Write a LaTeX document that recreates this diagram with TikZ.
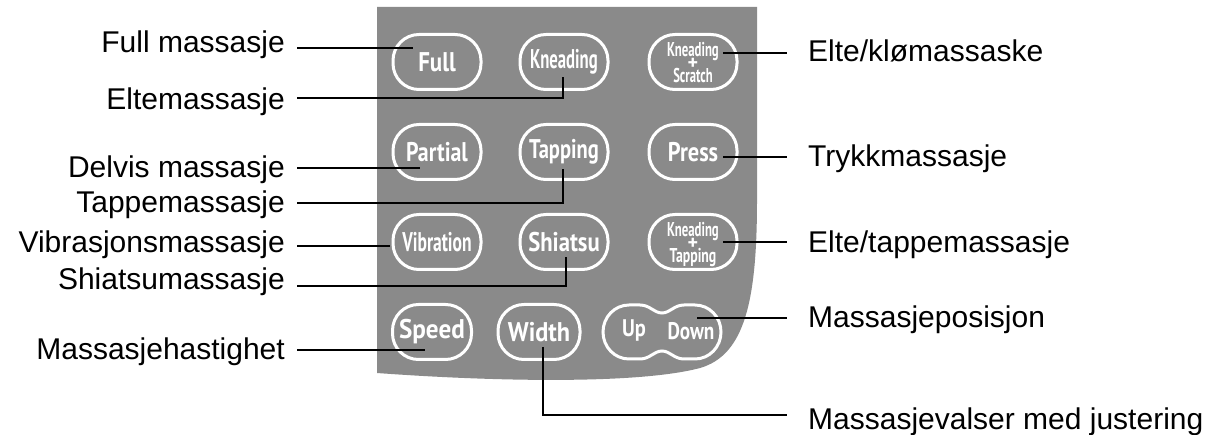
\documentclass[tikz,border=0pt]{standalone}
\usepackage{fontspec}
\usepackage{graphicx}
\newfontfamily\lblfont{Liberation Sans}
\newfontfamily\btnfont{PT Sans Bold}
\definecolor{panelgray}{HTML}{8A8A8A}
\newcommand{\bt}[2][1]{\scalebox{#1}[1]{#2}}

\begin{document}
\begin{tikzpicture}[x=1pt,y=-1pt,
        btn/.style={draw=white,line width=3,rounded corners=26,minimum width=88,minimum height=55,inner sep=0,text=white,font=\btnfont\fontsize{27}{31}\selectfont},
        twoline/.style={btn,align=center,text depth=0pt,font=\btnfont\fontsize{20}{24}\selectfont},
        lbl/.style={font=\lblfont\fontsize{30}{36}\selectfont,inner sep=0,inner xsep=12,anchor=base east},
        rlbl/.style={font=\lblfont\fontsize{30}{36}\selectfont,inner sep=0,inner xsep=21,anchor=base west},
        conn/.style={draw=black,line width=1.3}]
                \useasboundingbox (0,0) rectangle (1227,435);
                \fill[panelgray] (377,7) -- (757,7) -- (757,200) .. controls (757,300) and (745,355) .. (700,368) .. controls (640,384) and (500,382) .. (377,373) -- cycle;

                \node (full) at (437,62) [btn] {\bt[0.85]{Full}};
                \node (knead) at (564,62) [btn] {\bt[0.62]{Kneading}};
                \node (kscratch) at (693,62) [twoline] {\bt[0.64]{Kneading}\\[-11pt]+\\[-11pt]\bt[0.63]{Scratch}};
                \node (partial) at (437,152) [btn] {\bt[0.81]{Partial}};
                \node (tapping) at (564,152) [btn] {\bt[0.76]{Tapping}};
                \node (press) at (693,152) [btn] {\bt[0.83]{Press}};
                \node (vibration) at (437,242) [btn] {\bt[0.65]{Vibration}};
                \node (shiatsu) at (564,242) [btn] {\bt[0.84]{Shiatsu}};
                \node (ktapping) at (693,242) [twoline] {\bt[0.64]{Kneading}\\[-11pt]+\\[-11pt]\bt[0.69]{Tapping}};
                \node (speed) at (432,332) [btn,minimum width=79] {\bt[0.93]{Speed}};
                \node (width) at (539,332) [btn,minimum width=82] {\bt[0.9]{Width}};
                \node (updown) at (662,332) [minimum width=118,minimum height=54] {};
                \node (up) at (634,331) [text=white,font=\btnfont\fontsize{24}{28}\selectfont] {\bt[0.85]{Up}};
                \node (down) at (691,331) [text=white,font=\btnfont\fontsize{24}{28}\selectfont] {\bt[0.8]{Down}};
                \begin{scope}[shift={(updown.center)}]
                \draw[white,line width=3] (0,-19) .. controls (-8,-19) and (-12,-27) .. (-22,-27) -- (-33,-27) .. controls (-47.4,-27) and (-59,-14.9) .. (-59,0) .. controls (-59,14.9) and (-47.4,27) .. (-33,27) -- (-22,27) .. controls (-12,27) and (-8,19) .. (0,19) .. controls (8,19) and (12,27) .. (22,27) -- (33,27) .. controls (47.4,27) and (59,14.9) .. (59,0) .. controls (59,-14.9) and (47.4,-27) .. (33,-27) -- (22,-27) .. controls (12,-27) and (8,-19) .. (0,-19) -- cycle;
                \end{scope}

                \node (lfull) at (297,53) [lbl] {Full massasje};
                \node (lknead) at (297,110) [lbl] {Eltemassasje};
                \node (lpartial) at (297,178) [lbl] {Delvis massasje};
                \node (ltapping) at (297,213) [lbl] {Tappemassasje\ };
                \node (lvibration) at (297,253) [lbl] {Vibrasjonsmassasje};
                \node (lshiatsu) at (297,290) [lbl] {Shiatsumassasje};
                \node (lspeed) at (297,360) [lbl] {Massasjehastighet};

                \node (lkscratch) at (787,62) [rlbl] {Elte/klømassaske};
                \node (lpress) at (787,167) [rlbl] {Trykkmassasje};
                \node (lktapping) at (787,253) [rlbl] {Elte/tappemassasje};
                \node (lupdown) at (787,328) [rlbl] {Massasjeposisjon};
                \node (lwidth) at (787,430) [rlbl] {Massasjevalser med justering};

                \coordinate (pfull) at (413,48);
                \coordinate (pknead) at (563,77);
                \coordinate (bknead) at (563,98);
                \coordinate (ppartial) at (420,168);
                \coordinate (ptapping) at (563,169);
                \coordinate (btapping) at (563,203);
                \coordinate (pvibration) at (390,246);
                \coordinate (pshiatsu) at (566,257);
                \coordinate (bshiatsu) at (566,286);
                \coordinate (pspeed) at (425,350);
                \coordinate (pkscratch) at (723,53);
                \coordinate (ppress) at (723,157);
                \coordinate (pktapping) at (723,242);
                \coordinate (pupdown) at (697,318);
                \coordinate (pwidth) at (543,347);
                \coordinate (bwidth) at (543,415);

                \draw[conn] (lfull.east |- pfull) -- (pfull);
                \draw[conn] (lknead.east |- bknead) -- (bknead) -- (pknead);
                \draw[conn] (lpartial.east |- ppartial) -- (ppartial);
                \draw[conn] (ltapping.east |- btapping) -- (btapping) -- (ptapping);
                \draw[conn] (lvibration.east |- pvibration) -- (pvibration);
                \draw[conn] (lshiatsu.east |- bshiatsu) -- (bshiatsu) -- (pshiatsu);
                \draw[conn] (lspeed.east |- pspeed) -- (pspeed);
                \draw[conn] (pkscratch) -- (lkscratch.west |- pkscratch);
                \draw[conn] (ppress) -- (lpress.west |- ppress);
                \draw[conn] (pktapping) -- (lktapping.west |- pktapping);
                \draw[conn] (pupdown) -- (lupdown.west |- pupdown);
                \draw[conn] (pwidth) -- (bwidth) -- (lwidth.west |- bwidth);
            \end{tikzpicture}
\end{document}
